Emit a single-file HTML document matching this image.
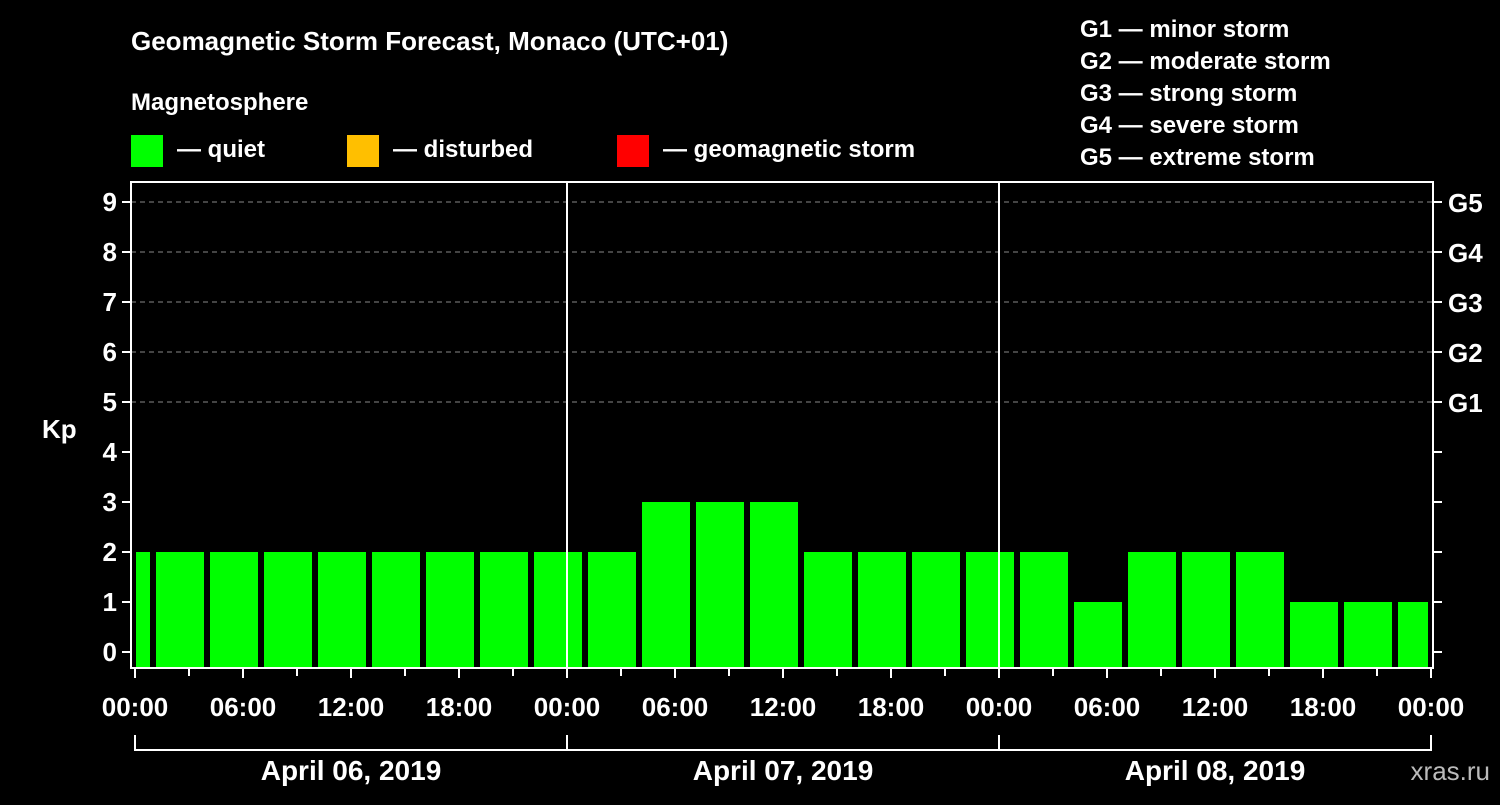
<!DOCTYPE html>
<html><head><meta charset="utf-8"><style>
body{margin:0;background:#000;}
svg text{font-family:"Liberation Sans",sans-serif;font-weight:bold;fill:#fff;}
</style></head><body>
<svg id="chart" width="1500" height="800" viewBox="0 0 1500 800">
<rect width="1500" height="800" fill="#000"/>
<text x="131" y="50" font-size="26">Geomagnetic Storm Forecast, Monaco (UTC+01)</text>
<text x="131" y="110" font-size="24">Magnetosphere</text>
<g><rect x="131" y="135" width="32" height="32" fill="#00ff00"/><text x="177" y="157" font-size="24">— quiet</text></g>
<g><rect x="347" y="135" width="32" height="32" fill="#ffbf00"/><text x="393" y="157" font-size="24">— disturbed</text></g>
<g><rect x="617" y="135" width="32" height="32" fill="#ff0000"/><text x="663" y="157" font-size="24">— geomagnetic storm</text></g>
<g font-size="24">
<text x="1080" y="37">G1 — minor storm</text>
<text x="1080" y="69">G2 — moderate storm</text>
<text x="1080" y="101">G3 — strong storm</text>
<text x="1080" y="133">G4 — severe storm</text>
<text x="1080" y="165">G5 — extreme storm</text>
</g>
<text x="42" y="438" font-size="26">Kp</text>
<text x="1490" y="780" font-size="26" text-anchor="end" fill="#bbb" style="fill:#bbb;font-weight:normal">xras.ru</text>
<g id="grid"></g><g id="bars"></g><g id="axes"></g>
</svg>
<script>
const kpValues=[2,2,2,2,2,2,2,2,2,2,3,3,3,2,2,2,2,2,1,2,2,2,1,1,1];
const yTicks=[0,1,2,3,4,5,6,7,8,9];
const gLabels=["G1","G2","G3","G4","G5"];
const hourLabels=["00:00","06:00","12:00","18:00"];
const dayLabels=["April 06, 2019","April 07, 2019","April 08, 2019"];
const NS="http://www.w3.org/2000/svg";
const L=131,R=1433,T=182,B=668,X0=135,PXH=18;
const x=h=>X0+h*PXH;
const y=v=>652-v*50;
function mk(tag,attrs,parent,txt){const e=document.createElementNS(NS,tag);for(const k in attrs)e.setAttribute(k,attrs[k]);if(txt!==undefined)e.textContent=txt;parent.appendChild(e);return e;}
const grid=document.getElementById('grid'),bars=document.getElementById('bars'),axes=document.getElementById('axes');
yTicks.forEach(v=>{if(v>=5){const g=mk('line',{x1:L,x2:R,y1:y(v),y2:y(v),stroke:'#888','stroke-dasharray':'5,4','stroke-width':1},grid);}
 const t=mk('line',{x1:L-9,x2:L,y1:y(v),y2:y(v),stroke:'#fff','stroke-width':2},axes);
 const t2=mk('line',{x1:R,x2:R+9,y1:y(v),y2:y(v),stroke:'#fff','stroke-width':2},axes);
 const lb=mk('text',{x:L-14,y:y(v)+9,'font-size':26,'text-anchor':'end'},axes,String(v));
 });
gLabels.forEach((g,i)=>{const lb=mk('text',{x:R+15,y:y(5+i)+10,'font-size':26},axes,g);
 });
kpValues.forEach((v,k)=>{let x1=x(3*k-2)+3,x2=x1+48;x1=Math.max(x1,L+5);x2=Math.min(x2,R-5);
 const c=v>=5?'#ff0000':(v>=4?'#ffbf00':'#00ff00');
 const r=mk('rect',{x:x1,y:y(v),width:x2-x1,height:B-y(v),fill:c},bars);
 });
const fr=mk('rect',{x:L,y:T,width:R-L,height:B-T,fill:'none',stroke:'#fff','stroke-width':2},axes);

for(let d=1;d<dayLabels.length;d++){const l=mk('line',{x1:x(24*d),x2:x(24*d),y1:T,y2:B,stroke:'#fff','stroke-width':2},axes);
 }
for(let h=0;h<=72;h+=3){mk('line',{x1:x(h),x2:x(h),y1:B,y2:B+(h%6==0?10:8),stroke:'#fff','stroke-width':2},axes);}
for(let h=0;h<=72;h+=6){const lb=mk('text',{x:x(h),y:716,'font-size':26,'text-anchor':'middle'},axes,hourLabels[(h/6)%4]);
 }
dayLabels.forEach((d,i)=>{const a=x(24*i),b=x(24*(i+1));
 mk('path',{d:`M${a},735V750H${b}V735`,fill:'none',stroke:'#fff','stroke-width':2},axes);
 const lb=mk('text',{x:(a+b)/2,y:780,'font-size':28,'text-anchor':'middle'},axes,d);
 });
</script>
</body></html>
